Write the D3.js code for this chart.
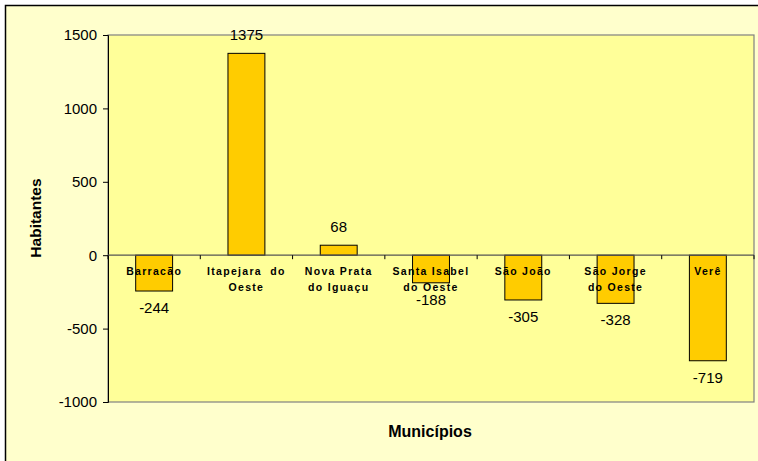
<!DOCTYPE html>
<html>
<head>
<meta charset="utf-8">
<script src="https://cdn.jsdelivr.net/npm/d3@7"></script>
<style>
  body { margin: 0; background: #fff; }
  svg { display: block; font-family: Arial, "Liberation Sans", sans-serif; }
</style>
</head>
<body>
<svg width="758" height="461"></svg>
<script>
// municipios e variacao de habitantes
const municipios = [
  ["Barracão"],
  ["Itapejara  do", "Oeste"],
  ["Nova Prata", "do Iguaçu"],
  ["Santa Isabel", "do Oeste"],
  ["São João"],
  ["São Jorge", "do Oeste"],
  ["Verê"]
];
const variacao = [-244, 1375, 68, -188, -305, -328, -719];
const yTicks = [-1000, -500, 0, 500, 1000, 1500];

const width = 758, height = 461;
const plot = { left: 108, top: 35, right: 754, bottom: 402 };

const svg = d3.select("svg");

// fundo externo
svg.append("rect")
  .attr("x", 0).attr("y", 0)
  .attr("width", width).attr("height", height)
  .attr("fill", "#fff");
svg.append("rect")
  .attr("x", 5.5).attr("y", 5.5)
  .attr("width", 780).attr("height", 480)
  .attr("fill", "#FFFFCC")
  .attr("stroke", "#000")
  .attr("stroke-width", 1.5);

const idx = d3.range(municipios.length);
const x = d3.scaleBand()
  .domain(idx)
  .range([plot.left, plot.right])
  .paddingInner(0.6).paddingOuter(0.3);
const band = d3.scaleBand().domain(idx).range([plot.left, plot.right]);
const y = d3.scaleLinear()
  .domain([-1000, 1500])
  .range([plot.bottom, plot.top]);

// area do grafico
svg.append("rect")
  .attr("x", plot.left).attr("y", plot.top)
  .attr("width", plot.right - plot.left)
  .attr("height", plot.bottom - plot.top)
  .attr("fill", "#FFFF99")
  .attr("stroke", "#808080")
  .attr("stroke-width", 1.2);

// eixo y
const yAxis = svg.append("g")
  .attr("transform", `translate(${plot.left},0)`)
  .call(d3.axisLeft(y).tickValues(yTicks).tickSize(5).tickPadding(6).tickFormat(d => String(d)));
yAxis.select(".domain").attr("stroke", "#000");
yAxis.selectAll(".tick line").attr("stroke", "#000");
yAxis.selectAll("text")
  .attr("font-size", 15)
  .attr("font-family", "Arial, 'Liberation Sans', sans-serif")
  .attr("fill", "#000");

// barras
svg.append("g").selectAll("rect")
  .data(idx)
  .join("rect")
    .attr("x", i => x(i))
    .attr("width", x.bandwidth())
    .attr("y", i => y(Math.max(0, variacao[i])))
    .attr("height", i => Math.abs(y(variacao[i]) - y(0)))
    .attr("fill", "#FFCC00")
    .attr("stroke", "#000")
    .attr("stroke-width", 1);

// linha do zero com marcas
const zero = svg.append("g").attr("transform", `translate(0,${y(0)})`);
zero.append("line")
  .attr("x1", plot.left).attr("x2", plot.right)
  .attr("stroke", "#555").attr("stroke-width", 1.2);
zero.selectAll(".tk")
  .data(d3.range(municipios.length + 1))
  .join("line")
    .attr("class", "tk")
    .attr("x1", i => plot.left + i * band.step())
    .attr("x2", i => plot.left + i * band.step())
    .attr("y1", 0).attr("y2", 4)
    .attr("stroke", "#000");

// rotulos das categorias
const cat = svg.append("g").selectAll("text")
  .data(idx)
  .join("text")
    .attr("x", i => band(i) + band.bandwidth() / 2)
    .attr("y", y(0) + 20)
    .attr("text-anchor", "middle")
    .attr("font-size", 10.5)
    .attr("font-weight", "bold")
    .attr("letter-spacing", 1.3)
    .attr("fill", "#000")
    .attr("xml:space", "preserve");
cat.selectAll("tspan")
  .data(i => municipios[i].map(s => ({ s, i })))
  .join("tspan")
    .attr("x", d => band(d.i) + band.bandwidth() / 2)
    .attr("dy", (d, k) => k === 0 ? 0 : 16)
    .text(d => d.s);

// valores
svg.append("g").selectAll("text")
  .data(idx)
  .join("text")
    .attr("x", i => x(i) + x.bandwidth() / 2)
    .attr("y", i => variacao[i] >= 0 ? y(variacao[i]) - 13 : y(variacao[i]) + 22)
    .attr("text-anchor", "middle")
    .attr("font-size", 15)
    .attr("fill", "#000")
    .text(i => variacao[i]);

// titulos dos eixos
svg.append("text")
  .attr("transform", `translate(41,218) rotate(-90)`)
  .attr("text-anchor", "middle")
  .attr("font-size", 15.5)
  .attr("font-weight", "bold")
  .text("Habitantes");

svg.append("text")
  .attr("x", 430).attr("y", 437)
  .attr("text-anchor", "middle")
  .attr("font-size", 16)
  .attr("font-weight", "bold")
  .text("Municípios");
</script>
</body>
</html>
